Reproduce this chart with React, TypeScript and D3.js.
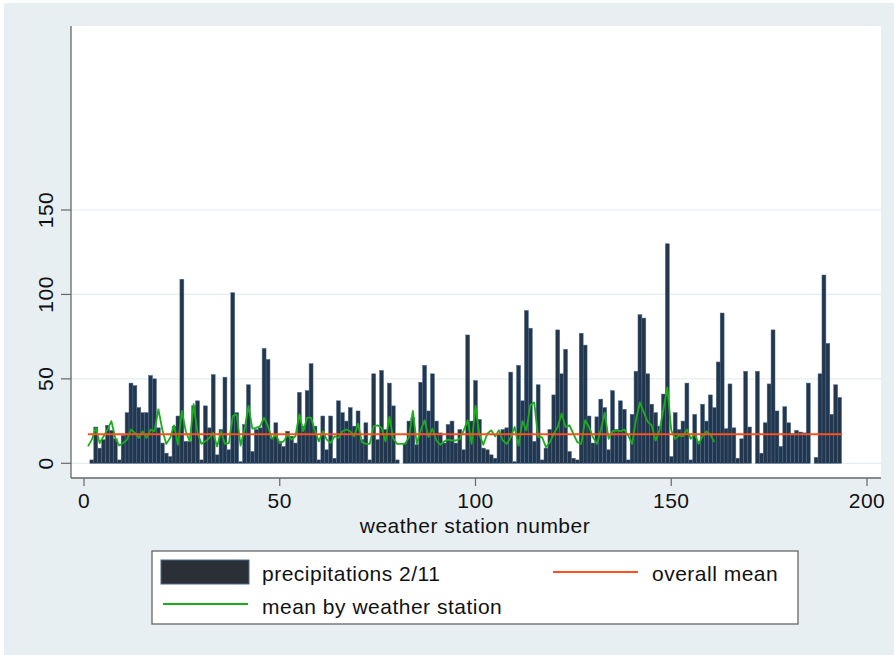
import React from "react";
import * as d3 from "d3";

// precipitation 2/11 by weather station (stations 1..193)
const precip: number[] = [
  0, 2, 21.5, 9, 14, 22.5, 19.5, 14.5, 2, 16.5,
  30, 47.5, 46, 33, 30, 30, 52, 50, 21, 12,
  6, 4, 22, 28, 109, 13, 13, 34, 37, 2,
  34, 21, 52.5, 5, 20, 51, 8, 101, 30, 1,
  23, 46.5, 7, 20, 21, 68, 61.5, 15, 24, 13,
  10, 19, 16, 12, 42, 22, 43, 59, 22, 2,
  28, 8, 28, 3, 37, 30, 25, 33, 22, 31,
  14, 24, 2, 53, 14, 55, 20, 47.5, 34, 2,
  0, 12, 25, 27, 11, 48, 58, 31, 53, 25,
  18, 12, 23, 25, 12, 20, 8, 76, 25, 49,
  26, 9, 8, 5, 3, 17, 20, 21, 54, 1,
  58, 37, 90.5, 80, 13, 46.5, 2, 9, 20, 40.5,
  79, 53, 67.5, 7, 3, 2, 77, 70, 28, 12,
  27.5, 38, 33, 8, 43, 20, 37, 32, 2, 29,
  54.5, 88, 86, 53, 35, 30, 22, 41, 130, 4,
  30, 20, 25, 47.5, 2, 29, 13, 35, 25, 40.5,
  33, 60, 89, 20.5, 47, 21, 3, 14.5, 54.5, 21.5,
  0, 54.5, 6, 24, 47, 79, 31, 10, 33.5, 24,
  17.5, 19.5, 18.5, 18, 47.5, 0, 3.5, 53, 111.5, 71,
  29, 46.5, 39,
];

// mean by weather station (stations 1..161)
const stationMean: number[] = [
  10, 14, 21, 12, 16, 20, 25, 15, 10.5, 12,
  14, 20, 18, 15, 19, 15, 20, 19, 32, 20,
  11.5, 15, 22.5, 11, 31, 19, 13, 35, 18, 11.5,
  13, 15, 18, 10, 19, 11.5, 12, 28, 29, 10.5,
  20, 34, 20.5, 21, 22, 27, 22, 14.5, 17, 12,
  13, 17, 14, 16, 29, 19, 27, 27, 19, 13,
  19, 14, 12, 16, 15, 19, 20, 19, 16, 23.5,
  12.5, 11.5, 11.5, 22, 22.5, 21, 13, 27.5, 14.5, 11.5,
  11.5, 11.5, 15.5, 31, 11.5, 19.5, 25.5, 15.5, 20.5, 13.5,
  11, 13, 14, 13.5, 13.5, 14.5, 19.5, 25.5, 11.5, 34,
  17, 11, 17.5, 19.5, 16, 19.5, 13.5, 11.5, 15.5, 21.5,
  10.5, 25, 19.5, 34.5, 36, 15.5, 15.5, 9.5, 12.5, 17.5,
  21.5, 29.5, 21.5, 22.5, 17.5, 12.5, 11.5, 25.5, 21.5, 15.5,
  11.5, 19.5, 30, 14.5, 19, 19.5, 19, 20, 16.5, 11.5,
  26, 36, 30, 24.5, 22.5, 13.5, 19.5, 32, 45, 19.5,
  14.5, 16.5, 16, 20, 14.5, 17.5, 11.5, 16, 19, 17,
  12.5,
];

const overallMean = 17.2;
const overallRange: [number, number] = [1, 193];

const xTicks = [0, 50, 100, 150, 200];
const yTicks = [0, 50, 100, 150];
const xTitle = "weather station number";
const legendLabels = ["precipitations 2/11", "overall mean", "mean by weather station"];

const FONT = "'Liberation Sans', Arial, Helvetica, sans-serif";

export default function App() {
  const W = 894, H = 655;
  const plot = { left: 71, right: 881, top: 26, bottom: 478 };
  const x = d3.scaleLinear().domain([0, 200]).range([84, 867]);
  const y = d3.scaleLinear().domain([0, 150]).range([463.3, 210]);
  const bw = x(1) - x(0);

  const meanLine = d3
    .line<number>()
    .x((_, i) => x(i + 1))
    .y((d) => y(d));

  const navy = "#22364d";
  const green = "#1aae1a";
  const orange = "#ff5020";
  const fs = 21;
  const ls = 0.5;

  return (
    <svg width={W} height={H} style={{ position: "absolute", left: 0, top: 0 }} fontFamily={FONT}>
      <rect x={0} y={0} width={W} height={H} fill="#ffffff" />
      <rect x={4} y={3} width={W - 4} height={H - 3} fill="#e8eff2" />
      <rect x={plot.left} y={plot.top} width={plot.right - plot.left} height={plot.bottom - plot.top} fill="#ffffff" />
      {yTicks.map((t) => (
        <line key={"g" + t} x1={plot.left} x2={plot.right} y1={y(t)} y2={y(t)} stroke="#e4edf1" strokeWidth={1.2} />
      ))}
      {precip.map((v, i) =>
        v > 0 ? (
          <rect
            key={"b" + i}
            x={x(i + 1) - bw / 2}
            y={y(v)}
            width={bw}
            height={y(0) - y(v)}
            fill={navy}
            stroke="#4a6887"
            strokeWidth={0.5}
          />
        ) : null
      )}
      <path d={meanLine(stationMean) || ""} fill="none" stroke={green} strokeWidth={1.8} strokeLinejoin="round" />
      <line x1={x(overallRange[0])} x2={x(overallRange[1]) + bw / 2} y1={y(overallMean)} y2={y(overallMean)} stroke={orange} strokeWidth={2} />
      {/* axes */}
      <line x1={plot.left} x2={plot.left} y1={plot.top} y2={plot.bottom} stroke="#666" strokeWidth={1.3} />
      <line x1={plot.left} x2={plot.right} y1={plot.bottom} y2={plot.bottom} stroke="#666" strokeWidth={1.3} />
      {xTicks.map((t) => (
        <g key={"xt" + t}>
          <line x1={x(t)} x2={x(t)} y1={plot.bottom} y2={plot.bottom + 8} stroke="#666" strokeWidth={1.2} />
          <text x={x(t)} y={508} fontSize={fs} letterSpacing={ls} textAnchor="middle" fill="#111">{t}</text>
        </g>
      ))}
      {yTicks.map((t) => (
        <g key={"yt" + t}>
          <line x1={plot.left - 10} x2={plot.left} y1={y(t)} y2={y(t)} stroke="#666" strokeWidth={1.2} />
          <text transform={`translate(53,${y(t)}) rotate(-90)`} fontSize={fs} letterSpacing={ls} textAnchor="middle" fill="#111">{t}</text>
        </g>
      ))}
      <text x={475} y={533} fontSize={fs} letterSpacing={ls} textAnchor="middle" fill="#111">{xTitle}</text>
      {/* legend */}
      <rect x={152} y={551} width={646} height={73} fill="#ffffff" stroke="#666" strokeWidth={1.3} />
      <rect x={161} y={560} width={88} height={24} fill="#2b3037" stroke="#4a6887" strokeWidth={1} />
      <text x={262} y={581} fontSize={fs} letterSpacing={ls} fill="#111">{legendLabels[0]}</text>
      <line x1={553} x2={638} y1={572} y2={572} stroke={orange} strokeWidth={2} />
      <text x={652} y={581} fontSize={fs} letterSpacing={ls} fill="#111">{legendLabels[1]}</text>
      <line x1={163} x2={248} y1={604} y2={604} stroke={green} strokeWidth={2} />
      <text x={262} y={614} fontSize={fs} letterSpacing={ls} fill="#111">{legendLabels[2]}</text>
    </svg>
  );
}
